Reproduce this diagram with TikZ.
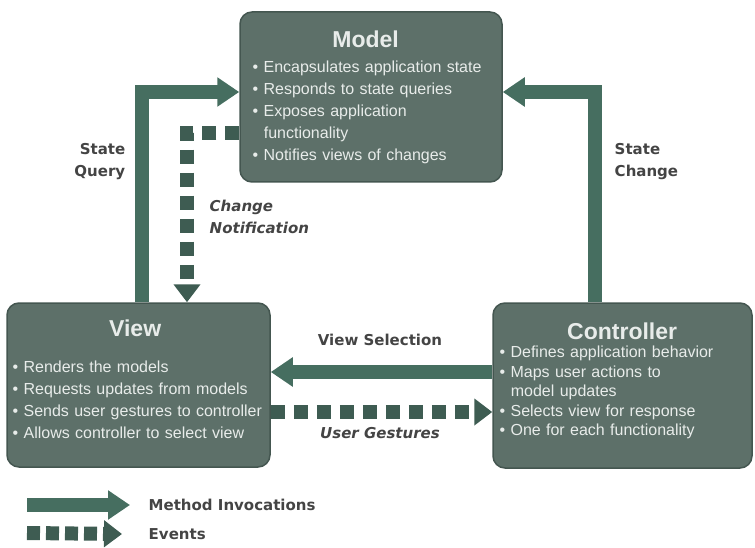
\documentclass[tikz,border=0pt]{standalone}
\usepackage{fontspec}
\setmainfont{Liberation Sans}
\newfontfamily\labelfamily{DejaVu Sans}
\usepackage{tikz}
\usetikzlibrary{arrows.meta,positioning}
\definecolor{boxfill}{RGB}{93,112,105}
\definecolor{boxline}{RGB}{68,86,80}
\definecolor{flow}{RGB}{70,110,96}
\definecolor{eventflow}{RGB}{62,92,82}
\definecolor{labelgray}{RGB}{68,68,68}
\definecolor{boxtextcol}{RGB}{232,236,234}
\newcommand{\titlefont}{\fontsize{23}{26}\selectfont\bfseries}
\newcommand{\bulletfont}{\fontsize{16}{22}\selectfont\hyphenpenalty=10000}
\newcommand{\labelfont}{\labelfamily\fontsize{15}{22}\selectfont\bfseries}
\newcommand{\itm}{\par\hangindent=0.7em\hangafter=1\noindent\textbullet\ }
\newcommand{\cont}{\par\noindent\hspace*{0.7em}}
\tikzset{every path/.style={thick}}
\tikzset{
  mvcbox/.style={draw=boxline,fill=boxfill,rounded corners=12pt,line width=1.5pt,inner sep=0pt},
  boxtext/.style={text=boxtextcol,align=left,inner sep=0pt,font=\bulletfont,anchor=north west},
  method/.style={draw=flow,line width=14pt,-{Triangle[width=28pt,length=22pt]}},
  event/.style={draw=eventflow,line width=14pt,dash pattern=on 14pt off 9pt,-{Triangle[width=26pt,length=18pt]}},
  flowlabel/.style={text=labelgray,font=\labelfont,align=center}
}

\begin{document}
\begin{tikzpicture}[x=1pt,y=-1pt]
\useasboundingbox (0,0) rectangle (755,548);
% the three boxes
\node[mvcbox,minimum width=262pt,minimum height=170pt] (model) at (371,97) {};
\node[mvcbox,minimum width=263pt,minimum height=164pt] (view) at (138.5,385) {};
\node[mvcbox,minimum width=259pt,minimum height=165pt] (controller) at (622.5,385.5) {};
\node[boxtext,text width=240pt,xshift=13pt,yshift=-19pt] (modeltext) at (model.north west)
  {{\centering\titlefont Model\hspace*{14pt}\par}\vspace{3pt}
   \itm Encapsulates application state
   \itm Responds to state queries
   \itm Exposes application
   \cont functionality
   \itm Notifies views of changes};
\node[boxtext,text width=255pt,xshift=6pt,yshift=-17pt] (viewtext) at (view.north west)
  {{\centering\titlefont View\hspace*{10pt}\par}\vspace{14pt}
   \itm Renders the models
   \itm Requests updates from models
   \itm Sends user gestures to controller
   \itm Allows controller to select view};
\node[boxtext,text width=245pt,xshift=7pt,yshift=-20pt,font=\fontsize{16}{19.5}\selectfont] (controllertext) at (controller.north west)
  {{\centering\titlefont Controller\par}\vspace{-1pt}
   \itm Defines application behavior
   \itm Maps user actions to
   \cont model updates
   \itm Selects view for response
   \itm One for each functionality};
% lanes for the connectors
\coordinate (querylane) at (142,92);
\coordinate (changelane) at (595,92);
\coordinate (notifylane) at (187,133);
\coordinate (selectlane) at (0,372);
\coordinate (gesturelane) at (0,412);
\draw[method] (view.north -| querylane) |- (model.west |- querylane);
\draw[method] (controller.north -| changelane) |- (model.east |- changelane);
\draw[event] (model.west |- notifylane) -| (view.north -| notifylane);
\draw[method] (controller.west |- selectlane) -- (view.east |- selectlane);
\draw[event] (view.east |- gesturelane) -- (controller.west |- gesturelane);
% labels
\node[flowlabel,anchor=east,align=right] (querylabel) at (129,162) {State\\Query};
\node[flowlabel,anchor=west,align=left] (changelabel) at (611,162) {State\\Change};
\node[flowlabel,anchor=west,align=left,font=\labelfont\itshape] (notifylabel) at (206,217) {Change\\Notification};
\node[flowlabel] (selectlabel) at (380,340) {View Selection};
\node[flowlabel,font=\labelfont\itshape] (gesturelabel) at (380,433) {User Gestures};
% legend
\node[flowlabel,anchor=west] (methodkey) at (145,505) {Method Invocations};
\node[flowlabel,anchor=west] (eventkey) at (145,534) {Events};
\coordinate (methodstart) at (27,505);
\coordinate (eventstart) at (27,533);
\draw[method] (methodstart) -- ([xshift=-15pt]methodkey.west);
\draw[event,dash pattern=on 13pt off 6pt] (eventstart) -- ([xshift=-23pt]eventkey.west);
\end{tikzpicture}
\end{document}
